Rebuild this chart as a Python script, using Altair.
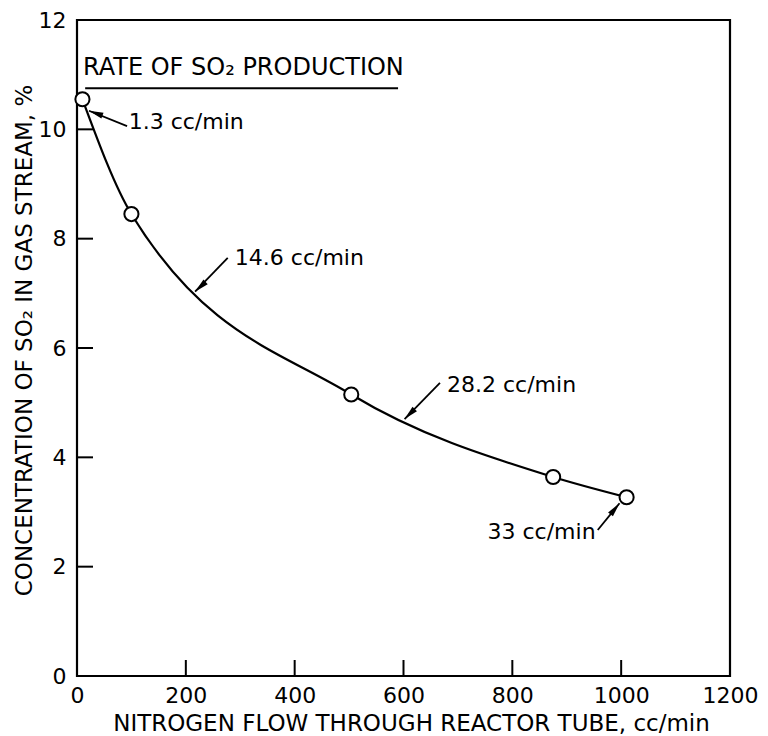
import altair as alt
import pandas as pd

# measured data points
flow = [10, 100, 504, 875, 1010]
conc = [10.55, 8.45, 5.15, 3.64, 3.27]

# annotations (rate of SO2 production)
ann_text = ["1.3 cc/min", "14.6 cc/min", "28.2 cc/min", "33 cc/min"]
ann_x = [95, 290, 680, 953]
ann_y = [10.13, 7.65, 5.32, 2.63]
ann_side = ["left", "left", "left", "right"]
arrow_x1 = [92, 277, 667, 957]
arrow_y1 = [10.06, 7.65, 5.36, 2.67]
arrow_x2 = [22, 217, 602, 997]
arrow_y2 = [10.34, 7.03, 4.70, 3.16]
arrow_angle = [290, 227, 225, 39]

header_text = ["RATE OF SO\u2082 PRODUCTION"]
header_x = [11]
header_y = [11.0]
header_line_x = [15]
header_line_x2 = [590]
header_line_y = [10.75]

x_ticks = [200, 400, 600, 800, 1000]
y_ticks = [2, 4, 6, 8, 10]
x_labels = [0, 200, 400, 600, 800, 1000, 1200]
y_labels = [0, 2, 4, 6, 8, 10, 12]

W, H = 653, 656
FONT = "DejaVu Sans"

pts = pd.DataFrame({"flow": flow, "conc": conc})
ann = pd.DataFrame({"t": ann_text, "x": ann_x, "y": ann_y, "side": ann_side,
                    "x1": arrow_x1, "y1": arrow_y1, "x2": arrow_x2, "y2": arrow_y2,
                    "ang": arrow_angle})
hdr = pd.DataFrame({"t": header_text, "x": header_x, "y": header_y,
                    "lx": header_line_x, "lx2": header_line_x2, "ly": header_line_y})
xt = pd.DataFrame({"v": x_ticks})
yt = pd.DataFrame({"v": y_ticks})

xscale = alt.Scale(domain=[0, 1200], nice=False, zero=False)
yscale = alt.Scale(domain=[0, 12], nice=False, zero=False)

xaxis = alt.Axis(values=x_labels, format="d", ticks=False, domain=False, grid=False,
                 labelFont=FONT, labelFontSize=22, labelColor="black", labelPadding=9,
                 title="NITROGEN FLOW THROUGH REACTOR TUBE, cc/min",
                 titleFont=FONT, titleFontSize=23, titleFontWeight="normal",
                 titleColor="black", titleX=334, titleY=47, titleAlign="center",
                 titleBaseline="middle", labelFlush=False)
yaxis = alt.Axis(values=y_labels, format="d", ticks=False, domain=False, grid=False,
                 labelFont=FONT, labelFontSize=22, labelColor="black", labelPadding=11,
                 title="CONCENTRATION OF SO\u2082 IN GAS STREAM, %",
                 titleFont=FONT, titleFontSize=23, titleFontWeight="normal",
                 titleColor="black", titleX=-53, titleY=320, titleAngle=270,
                 titleAlign="center", titleBaseline="middle", labelFlush=False)

line = alt.Chart(pts).mark_line(color="black", strokeWidth=2.2, interpolate="monotone").encode(
    x=alt.X("flow:Q", scale=xscale, axis=xaxis),
    y=alt.Y("conc:Q", scale=yscale, axis=yaxis),
)
circles = alt.Chart(pts).mark_point(shape="circle", size=200, filled=True, fill="white",
                                    stroke="black", strokeWidth=2, opacity=1).encode(
    x=alt.X("flow:Q", scale=xscale), y=alt.Y("conc:Q", scale=yscale))

xt_rules = alt.Chart(xt).mark_rule(color="black", strokeWidth=2).encode(
    x=alt.X("v:Q", scale=xscale), y=alt.value(H), y2=alt.value(H - 16))
yt_rules = alt.Chart(yt).mark_rule(color="black", strokeWidth=2).encode(
    y=alt.Y("v:Q", scale=yscale), x=alt.value(0), x2=alt.value(16))

arrows = alt.Chart(ann).mark_rule(color="black", strokeWidth=1.8).encode(
    x=alt.X("x1:Q", scale=xscale), y=alt.Y("y1:Q", scale=yscale),
    x2="x2:Q", y2="y2:Q")
heads = alt.Chart(ann).mark_point(shape="M0,0L0.48,2.2L-0.48,2.2Z", size=170, filled=True,
                                  color="black", opacity=1).encode(
    x=alt.X("x2:Q", scale=xscale), y=alt.Y("y2:Q", scale=yscale),
    angle=alt.Angle("ang:Q", scale=None))
labels_l = alt.Chart(ann).transform_filter(alt.datum.side == "left").mark_text(
    font=FONT, fontSize=22, align="left", baseline="middle", color="black").encode(
    x=alt.X("x:Q", scale=xscale), y=alt.Y("y:Q", scale=yscale), text="t:N")
labels_r = alt.Chart(ann).transform_filter(alt.datum.side == "right").mark_text(
    font=FONT, fontSize=22, align="right", baseline="middle", color="black").encode(
    x=alt.X("x:Q", scale=xscale), y=alt.Y("y:Q", scale=yscale), text="t:N")

hdr_line = alt.Chart(hdr).mark_rule(color="black", strokeWidth=2).encode(
    x=alt.X("lx:Q", scale=xscale), x2="lx2:Q", y=alt.Y("ly:Q", scale=yscale))
hdr_text = alt.Chart(hdr).mark_text(font=FONT, fontSize=24, align="left", baseline="alphabetic",
                                    color="black").encode(
    x=alt.X("x:Q", scale=xscale), y=alt.Y("y:Q", scale=yscale), text="t:N")

chart = alt.layer(line, xt_rules, yt_rules, arrows, heads, labels_l, labels_r,
                  hdr_line, hdr_text, circles).properties(
    width=W, height=H,
    autosize=alt.AutoSizeParams(type="none"),
    padding={"left": 69, "top": 12, "right": 30, "bottom": 58},
    background="white",
).configure_view(stroke="black", strokeWidth=2.2)

chart.save("out.html", embed_options={"renderer": "svg", "actions": False})
